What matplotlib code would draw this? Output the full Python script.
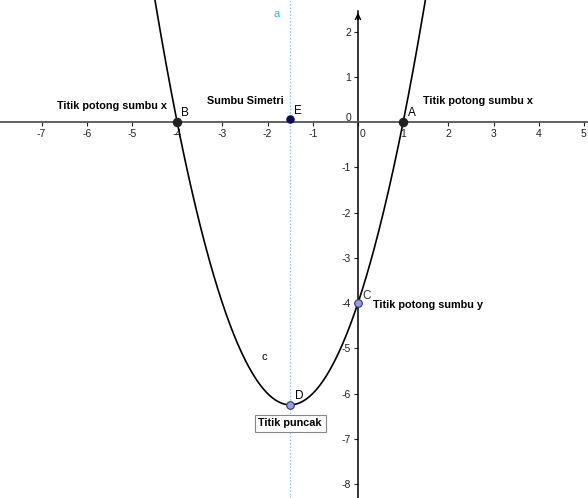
import matplotlib.pyplot as plt
import matplotlib.transforms as mtransforms
import numpy as np

plt.rcParams['font.family'] = ['Liberation Sans', 'DejaVu Sans']
plt.rcParams['axes.unicode_minus'] = False

# y = x^2 + 3x - 4
a, b, c = 1, 3, -4
akar = [-4, 1]                 # titik potong sumbu x (B, A)
titik_y = (0, -4)              # titik potong sumbu y (C)
puncak = (-1.5, -6.25)         # titik puncak (D)
simetri = (-1.5, 0)            # sumbu simetri (E)
x_ticks = [-7, -6, -5, -4, -3, -2, -1, 0, 1, 2, 3, 4, 5]
y_ticks = [-8, -7, -6, -5, -4, -3, -2, -1, 0, 1, 2]

fig = plt.figure(figsize=(5.88, 4.98), dpi=100)
ax = fig.add_axes([0, 0, 1, 1])
ax.set_xlim(-7.92, 5.09)
ax.set_ylim(-8.31, 2.70)

# sumbu koordinat lewat titik nol
for s in ['top', 'right']:
    ax.spines[s].set_visible(False)
ax.spines['left'].set_position(('data', 0))
ax.spines['bottom'].set_position(('data', 0))
ax.spines['left'].set_bounds(-8.31, 2.45)
ax.spines['bottom'].set_color('#555555')
ax.spines['left'].set_color('black')
ax.spines['bottom'].set_linewidth(1.3)
ax.spines['left'].set_linewidth(1.1)
ax.annotate('', xy=(0, 2.48), xytext=(0, 2.2),
            arrowprops=dict(arrowstyle='->', color='black', lw=1.1, mutation_scale=9))

ax.set_xticks(x_ticks)
ax.set_yticks(y_ticks)
ax.tick_params(axis='both', direction='out', length=3, width=0.8,
               labelsize=7.5, colors='#222222', pad=2)

# geser label nol supaya tidak menabrak sumbu y
for lbl in ax.get_xticklabels():
    if lbl.get_text() == '0':
        lbl.set_transform(lbl.get_transform() +
                          mtransforms.ScaledTranslation(5 / 100, 0, fig.dpi_scale_trans))
for lbl in ax.get_yticklabels():
    if lbl.get_text() == '0':
        lbl.set_transform(lbl.get_transform() +
                          mtransforms.ScaledTranslation(0, 5 / 100, fig.dpi_scale_trans))

# parabola
x = np.linspace(-7.92, 5.09, 600)
y = a * x**2 + b * x + c
ax.plot(x, y, color='black', lw=1.2, zorder=3)

# garis sumbu simetri
ax.axvline(simetri[0], color='#7fd0d8', lw=0.9, ls=(0, (1.2, 1.5)), zorder=2)
ax.text(-1.86, 2.33, 'a', color='#30b8c0', fontsize=8)

# titik-titik
ax.scatter(akar, [0, 0], s=34, color='#222222', zorder=5)
ax.scatter([titik_y[0], puncak[0]], [titik_y[1], puncak[1]], s=30,
           color='#9a9af0', edgecolor='#333366', linewidth=0.8, zorder=5)
ax.scatter([simetri[0]], [simetri[1] + 0.06], s=26, color='#0a0a60', zorder=5)

ax.text(-3.92, 0.13, 'B', fontsize=8.5)
ax.text(-1.42, 0.18, 'E', fontsize=8.5)
ax.text(1.1, 0.13, 'A', fontsize=8.5)
ax.text(0.1, -3.9, 'C', fontsize=8.5, color='#333333')
ax.text(-2.13, -5.25, 'c', fontsize=8)
ax.text(-1.4, -6.12, 'D', fontsize=8.5)

ax.text(-6.66, 0.3, 'Titik potong sumbu x', fontsize=7.8, fontweight='bold')
ax.text(-3.35, 0.4, 'Sumbu Simetri', fontsize=7.8, fontweight='bold')
ax.text(1.45, 0.4, 'Titik potong sumbu x', fontsize=7.8, fontweight='bold')
ax.text(0.33, -4.12, 'Titik potong sumbu y', fontsize=7.8, fontweight='bold')
ax.text(-1.5, -6.55, 'Titik puncak', fontsize=7.8, fontweight='bold', ha='center', va='top',
        bbox=dict(boxstyle='square,pad=0.35', fc='white', ec='#888888', lw=0.8))

fig.savefig('out.png', dpi=100)
